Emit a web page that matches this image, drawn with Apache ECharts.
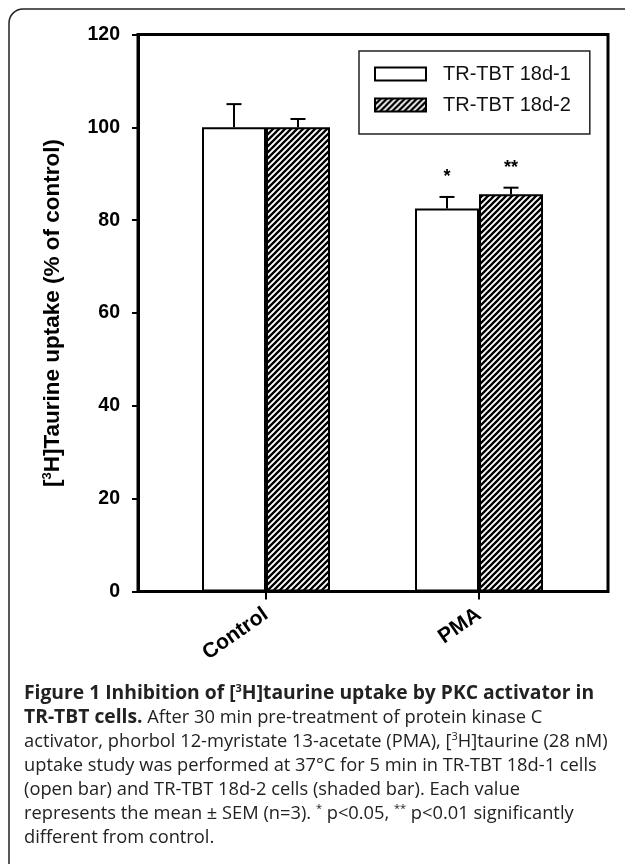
<!DOCTYPE html>
<html>
<head>
<meta charset="utf-8">
<script src="https://cdn.jsdelivr.net/npm/echarts@6/dist/echarts.min.js"></script>
<style>
  html, body { margin: 0; padding: 0; background: #fff; }
  #chart { width: 625px; height: 864px; }
</style>
</head>
<body>
<div id="chart"></div>
<script>
// data
const categories = ['Control', 'PMA']
const seriesNames = ['TR-TBT 18d-1', 'TR-TBT 18d-2']
const means1 = [100, 82.5]
const sem1 = [5.0, 2.5]
const means2 = [100, 85.6]
const sem2 = [1.8, 1.4]
const sig1 = ['', '*']
const sig2 = ['', '**']

const captionLines = [
  '{b|Figure 1 Inhibition of [}{bs|3}{b|H]taurine uptake by PKC activator in}',
  '{b|TR-TBT cells.}{n| After 30 min pre-treatment of protein kinase C}',
  '{n|activator, phorbol 12-myristate 13-acetate (PMA), [}{s|3}{n|H]taurine (28 nM)}',
  '{n|uptake study was performed at 37°C for 5 min in TR-TBT 18d-1 cells}',
  '{n|(open bar) and TR-TBT 18d-2 cells (shaded bar). Each value}',
  '{n|represents the mean ± SEM (n=3). }{s|*}{n| p<0.05, }{s|**}{n| p<0.01 significantly}',
  '{n|different from control.}'
]

// hatch pattern for the shaded bars
function hatch() {
  const c = document.createElement('canvas')
  c.width = 6
  c.height = 6
  const ctx = c.getContext('2d')
  ctx.fillStyle = '#fff'
  ctx.fillRect(0, 0, 6, 6)
  ctx.strokeStyle = '#000'
  ctx.lineWidth = 2.3
  ctx.beginPath()
  ctx.moveTo(-1, 7); ctx.lineTo(7, -1)
  ctx.moveTo(-4, 4); ctx.lineTo(4, -4)
  ctx.moveTo(2, 10); ctx.lineTo(10, 2)
  ctx.stroke()
  return { image: c, repeat: 'repeat' }
}
const hatchFill = hatch()

const barW = 64
const font = 'Liberation Sans'

const captionRich = {
  b: { fontFamily: 'Open Sans', fontWeight: 'bold', fontSize: 19.3, lineHeight: 24 },
  n: { fontFamily: 'Open Sans', fontSize: 18.3, lineHeight: 24 },
  bs: { fontFamily: 'Open Sans', fontWeight: 'bold', fontSize: 11, lineHeight: 24, verticalAlign: 'top', padding: [1, 0, 0, 0] },
  s: { fontFamily: 'Open Sans', fontSize: 11, lineHeight: 24, verticalAlign: 'top', padding: [1, 0, 0, 0] }
}

function errBar(offset, sig) {
  return function (params, api) {
    const i = api.value(0)
    const v = api.value(1)
    const e = api.value(2)
    const top = api.coord([i, v])
    const cap = api.coord([i, v + e])
    const cx = top[0] + offset
    const children = [
      { type: 'line', shape: { x1: cx, y1: top[1], x2: cx, y2: cap[1] }, style: { stroke: '#000', lineWidth: 2 } },
      { type: 'line', shape: { x1: cx - 7.5, y1: cap[1], x2: cx + 7.5, y2: cap[1] }, style: { stroke: '#000', lineWidth: 2 } }
    ]
    const s = sig[params.dataIndex]
    if (s) {
      children.push({
        type: 'text',
        style: { text: s, x: cx, y: cap[1] - 11, align: 'center', verticalAlign: 'bottom', fill: '#000', font: 'bold 18px ' + font }
      })
    }
    return { type: 'group', children }
  }
}

const chart = echarts.init(document.getElementById('chart'))
chart.setOption({
  backgroundColor: '#fff',
  animation: false,
  graphic: [
    { type: 'rect', shape: { x: 9, y: 9, width: 660, height: 900, r: 14 }, style: { fill: 'none', stroke: '#222', lineWidth: 1.5 } }
  ].concat(captionLines.map((line, i) => ({
    type: 'text', x: 24, y: 682 + i * 24,
    style: { text: line, fill: '#222', width: 640, overflow: 'none', rich: captionRich }
  }))),
  legend: {
    orient: 'vertical',
    left: 359,
    top: 51,
    padding: [13, 19, 19, 15],
    borderColor: '#222',
    borderWidth: 1.5,
    itemWidth: 51,
    itemHeight: 13,
    itemGap: 11,
    icon: 'rect',
    textStyle: { fontFamily: font, fontSize: 20, color: '#111', padding: [0, 0, 0, 12], lineHeight: 20 },
    data: seriesNames
  },
  grid: [
    { left: 138, top: 34.5, width: 470, height: 557, show: true, borderColor: '#000', borderWidth: 3, backgroundColor: 'transparent' },
    { left: 159.5, top: 34.5, width: 426, height: 557 }
  ],
  xAxis: [
    { gridIndex: 0, type: 'value', min: 0, max: 1, show: false },
    {
      gridIndex: 1, type: 'category', data: categories, boundaryGap: true,
      axisLine: { show: false },
      axisTick: { show: true, alignWithLabel: true, length: 8, lineStyle: { color: '#000', width: 2 } },
      axisLabel: { rotate: 35, margin: 21, fontFamily: font, fontWeight: 'bold', fontSize: 21, color: '#000' }
    }
  ],
  yAxis: [
    {
      gridIndex: 0, type: 'value', min: 0, max: 120, interval: 20,
      name: '{a|[}{s|3}{a|H]Taurine uptake (% of control)}',
      nameLocation: 'middle', nameGap: 74, nameRotate: 90,
      nameTextStyle: {
        rich: {
          a: { fontFamily: font, fontWeight: 'bold', fontSize: 22.5, color: '#000' },
          s: { fontFamily: font, fontWeight: 'bold', fontSize: 13, color: '#000', verticalAlign: 'top' }
        }
      },
      axisLine: { show: true, lineStyle: { color: '#000', width: 3 } },
      axisTick: { show: true, length: 6, lineStyle: { color: '#000', width: 2 } },
      axisLabel: { margin: 18, fontFamily: font, fontWeight: 'bold', fontSize: 19.5, color: '#000' },
      splitLine: { show: false }
    },
    { gridIndex: 1, type: 'value', min: 0, max: 120, interval: 20, show: false }
  ],
  series: [
    {
      name: seriesNames[0], type: 'bar', xAxisIndex: 1, yAxisIndex: 1,
      barWidth: barW, barGap: '0%', data: means1,
      itemStyle: { color: '#fff', borderColor: '#000', borderWidth: 2 }
    },
    {
      name: seriesNames[1], type: 'bar', xAxisIndex: 1, yAxisIndex: 1,
      barWidth: barW, barGap: '0%', data: means2,
      itemStyle: { color: hatchFill, borderColor: '#000', borderWidth: 2 }
    },
    {
      type: 'custom', xAxisIndex: 1, yAxisIndex: 1, z: 5,
      renderItem: errBar(-barW / 2, sig1),
      data: means1.map((v, i) => [i, v, sem1[i]])
    },
    {
      type: 'custom', xAxisIndex: 1, yAxisIndex: 1, z: 5,
      renderItem: errBar(barW / 2, sig2),
      data: means2.map((v, i) => [i, v, sem2[i]])
    }
  ]
})
</script>
</body>
</html>
